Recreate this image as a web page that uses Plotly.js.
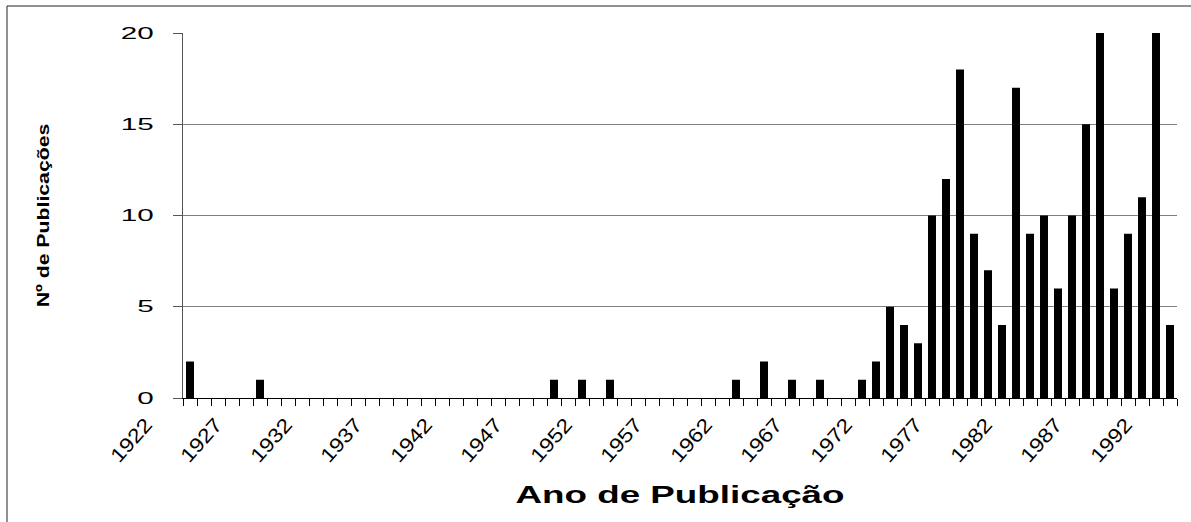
<!DOCTYPE html>
<html>
<head>
<meta charset="utf-8">
<script src="https://cdn.plot.ly/plotly-3.0.1.min.js"></script>
<style>
  html, body { margin: 0; padding: 0; background: #fff; }
  #chart { width: 1191px; height: 522px; }
</style>
</head>
<body>
<div id="chart"></div>
<script>
// Years (one category per year)
const years = [1922,1923,1924,1925,1926,1927,1928,1929,1930,1931,1932,1933,1934,1935,1936,1937,1938,1939,1940,1941,
  1942,1943,1944,1945,1946,1947,1948,1949,1950,1951,1952,1953,1954,1955,1956,1957,1958,1959,1960,1961,
  1962,1963,1964,1965,1966,1967,1968,1969,1970,1971,1972,1973,1974,1975,1976,1977,1978,1979,1980,1981,
  1982,1983,1984,1985,1986,1987,1988,1989,1990,1991,1992];
// Number of publications per year
const counts = [2,0,0,0,0,1,0,0,0,0,0,0,0,0,0,0,0,0,0,0,
  0,0,0,0,0,0,1,0,1,0,1,0,0,0,0,0,0,0,0,1,
  0,2,0,1,0,1,0,0,1,2,5,4,3,10,12,18,9,7,4,17,
  9,10,6,10,15,20,6,9,11,20,4];
// Labelled years on the category axis
const labelYears = [1922,1927,1932,1937,1942,1947,1952,1957,1962,1967,1972,1977,1982,1987,1992];
const labelText = ['1922','1927','1932','1937','1942','1947','1952','1957','1962','1967','1972','1977','1982','1987','1992'];
const yTicks = [0,5,10,15,20];

const FONT = '"Liberation Sans", Arial, sans-serif';

const trace = {
  type: 'bar',
  x: years,
  y: counts,
  width: 0.57,
  marker: { color: '#000000', line: { width: 0 } },
  hoverinfo: 'x+y'
};

const layout = {
  width: 1191,
  height: 522,
  margin: { l: 183, r: 14, t: 33, b: 124 },
  paper_bgcolor: '#ffffff',
  plot_bgcolor: '#ffffff',
  showlegend: false,
  font: { family: FONT, color: '#000' },
  xaxis: {
    type: 'linear',
    range: [1921.5, 1992.5],
    tickmode: 'array',
    tickvals: labelYears,
    ticktext: labelText,
    ticks: '',
    tickangle: -48,
    tickfont: { family: FONT, size: 20, color: '#000' },
    ticklabelshift: -44,
    ticklabelstandoff: 6,
    showgrid: false,
    zeroline: false,
    showline: true,
    linecolor: '#000',
    linewidth: 1,
    minor: { ticks: 'outside', tickmode: 'linear', tick0: 1921.5, dtick: 1, ticklen: 7, tickcolor: '#000', tickwidth: 1, showgrid: false },
    title: { text: 'Ano de Publicação', font: { family: FONT, size: 23, color: '#000', weight: 'bold' }, standoff: 26 }
  },
  yaxis: {
    range: [0, 20],
    tickmode: 'array',
    tickvals: yTicks,
    ticktext: yTicks.map(String),
    ticks: 'outside',
    ticklen: 9,
    tickcolor: '#555',
    tickfont: { family: FONT, size: 16, color: '#000' },
    ticklabelstandoff: 16,
    showgrid: true,
    gridcolor: '#808080',
    gridwidth: 1,
    zeroline: false,
    showline: true,
    linecolor: '#555',
    linewidth: 1,
    title: { text: 'Nº de Publicações', font: { family: FONT, size: 17, color: '#000', weight: 'bold' }, standoff: 82 }
  },
  shapes: [{
    type: 'rect', xref: 'paper', yref: 'paper',
    x0: (7 - 183) / 994, x1: (1200 - 183) / 994,
    y0: (398 - 540) / 365, y1: (398 - 6) / 365,
    line: { color: '#222', width: 1 }, fillcolor: 'rgba(0,0,0,0)', layer: 'below'
  }]
};

function stretch(sel, sx, anchor) {
  document.querySelectorAll(sel).forEach(function (el) {
    const bb = el.getBBox();
    if (!bb.width) return;
    const ax = anchor === 'end' ? bb.x + bb.width : (anchor === 'start' ? bb.x : bb.x + bb.width / 2);
    const ay = bb.y + bb.height / 2;
    const t = el.getAttribute('transform') || '';
    el.setAttribute('transform', t + ' translate(' + ax + ',' + ay + ') scale(' + sx + ',1) translate(' + (-ax) + ',' + (-ay) + ')');
  });
}

Plotly.newPlot('chart', [trace], layout, { displayModeBar: false, staticPlot: true }).then(function () {
  stretch('#chart .ytick text', 1.85, 'end');
  stretch('#chart .xtick text', 1.15, 'end');
  stretch('#chart .xtitle', 1.6, 'middle');
  stretch('#chart .ytitle', 1.25, 'middle');
});
</script>
</body>
</html>
